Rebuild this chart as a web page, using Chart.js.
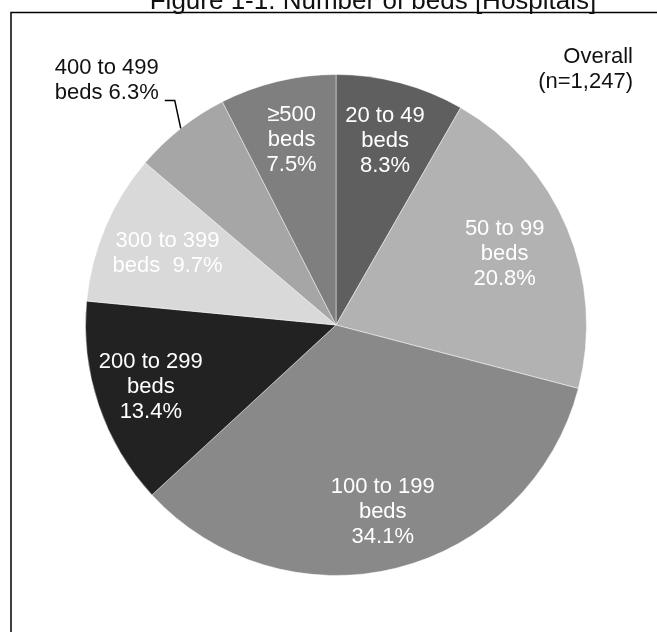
<!DOCTYPE html>
<html>
<head>
<meta charset="utf-8">
<script src="https://cdn.jsdelivr.net/npm/chart.js@4.4.0/dist/chart.umd.min.js"></script>
<style>
  html, body { margin: 0; padding: 0; background: #fff; }
  #wrap { width: 657px; height: 632px; position: relative; overflow: hidden; }
</style>
</head>
<body>
<div id="wrap"><canvas id="chart1" width="657" height="632"></canvas></div>
<script>
const categories = ['20 to 49', '50 to 99', '100 to 199', '200 to 299', '300 to 399', '400 to 499', '≥500'];
const shares = [8.3, 20.8, 34.1, 13.4, 9.7, 6.3, 7.5];
const sliceColors = ['#5f5f5f', '#b2b2b2', '#898989', '#222222', '#d9d9d9', '#a6a6a6', '#7f7f7f'];
const labelStyle = ['stack', 'stack', 'stack', 'stack', 'inline', 'outside', 'stack'];
const labelRadius = [0.76, 0.73, 0.77, 0.78, 0.73, 1, 0.76];
const titleText = 'Figure 1-1. Number of beds [Hospitals]';
const noteLines = ['Overall', '(n=1,247)'];

const FONT = '22px "Liberation Sans", Arial, sans-serif';

const labelLines = (i) => {
    const pct = shares[i].toFixed(1) + '%';
    if (labelStyle[i] === 'stack') return [categories[i], 'beds', pct];
    if (labelStyle[i] === 'inline') return [categories[i], 'beds  ' + pct];
    return [categories[i], 'beds ' + pct];
};

// frame, title and the "Overall" note
const framePlugin = {
    id: 'frame',
    beforeDraw(chart) {
        const ctx = chart.ctx;
        ctx.save();
        ctx.fillStyle = '#fff';
        ctx.fillRect(0, 0, chart.width, chart.height);
        ctx.strokeStyle = '#000';
        ctx.lineWidth = 1.5;
        ctx.beginPath();
        ctx.moveTo(11, chart.height + 5);
        ctx.lineTo(11, 12.5);
        ctx.lineTo(chart.width + 5, 12.5);
        ctx.stroke();

        ctx.fillStyle = '#111';
        ctx.font = '26px "Liberation Sans", Arial, sans-serif';
        ctx.textAlign = 'center';
        ctx.textBaseline = 'alphabetic';
        ctx.fillText(titleText, 373, 9);

        ctx.font = FONT;
        ctx.textAlign = 'right';
        noteLines.forEach((t, k) => ctx.fillText(t, 633, 63 + k * 25));
        ctx.restore();
    }
};

const sliceLabels = {
    id: 'sliceLabels',
    afterDatasetsDraw(chart) {
        const ctx = chart.ctx;
        const meta = chart.getDatasetMeta(0);
        ctx.save();
        ctx.font = FONT;
        ctx.textBaseline = 'middle';
        meta.data.forEach((arc, i) => {
            const {x, y, startAngle, endAngle, outerRadius} = arc.getProps(['x', 'y', 'startAngle', 'endAngle', 'outerRadius'], true);
            const mid = (startAngle + endAngle) / 2;
            const lines = labelLines(i);
            if (labelStyle[i] === 'outside') {
                const ax = x + Math.cos(mid) * outerRadius;
                const ay = y + Math.sin(mid) * outerRadius;
                const ex = ax - 6, ey = ay - 28;
                ctx.strokeStyle = '#000';
                ctx.lineWidth = 1.5;
                ctx.beginPath();
                ctx.moveTo(ax, ay);
                ctx.lineTo(ex, ey);
                ctx.lineTo(ex - 10, ey);
                ctx.stroke();
                ctx.fillStyle = '#111';
                ctx.textAlign = 'right';
                ctx.fillText(lines[0], ex - 16, ey - 32);
                ctx.fillText(lines[1], ex - 16, ey - 7);
            } else {
                const r = outerRadius * labelRadius[i];
                const px = x + Math.cos(mid) * r;
                const py = y + Math.sin(mid) * r;
                ctx.fillStyle = '#fff';
                ctx.textAlign = 'center';
                lines.forEach((t, k) => {
                    ctx.fillText(t, px, py + (k - (lines.length - 1) / 2) * 25);
                });
            }
        });
        ctx.restore();
    }
};

new Chart(document.getElementById('chart1'), {
    type: 'pie',
    data: {
        labels: categories,
        datasets: [{
            data: shares,
            backgroundColor: sliceColors,
            borderColor: 'rgba(255,255,255,0.45)',
            borderWidth: 1,
            hoverOffset: 0,
        }],
    },
    options: {
        responsive: false,
        animation: false,
        events: [],
        layout: {
            padding: {left: 85, right: 70, top: 74, bottom: 56},
        },
        plugins: {
            legend: {display: false},
            tooltip: {enabled: false},
            title: {display: false},
        },
    },
    plugins: [framePlugin, sliceLabels],
});
</script>
</body>
</html>
